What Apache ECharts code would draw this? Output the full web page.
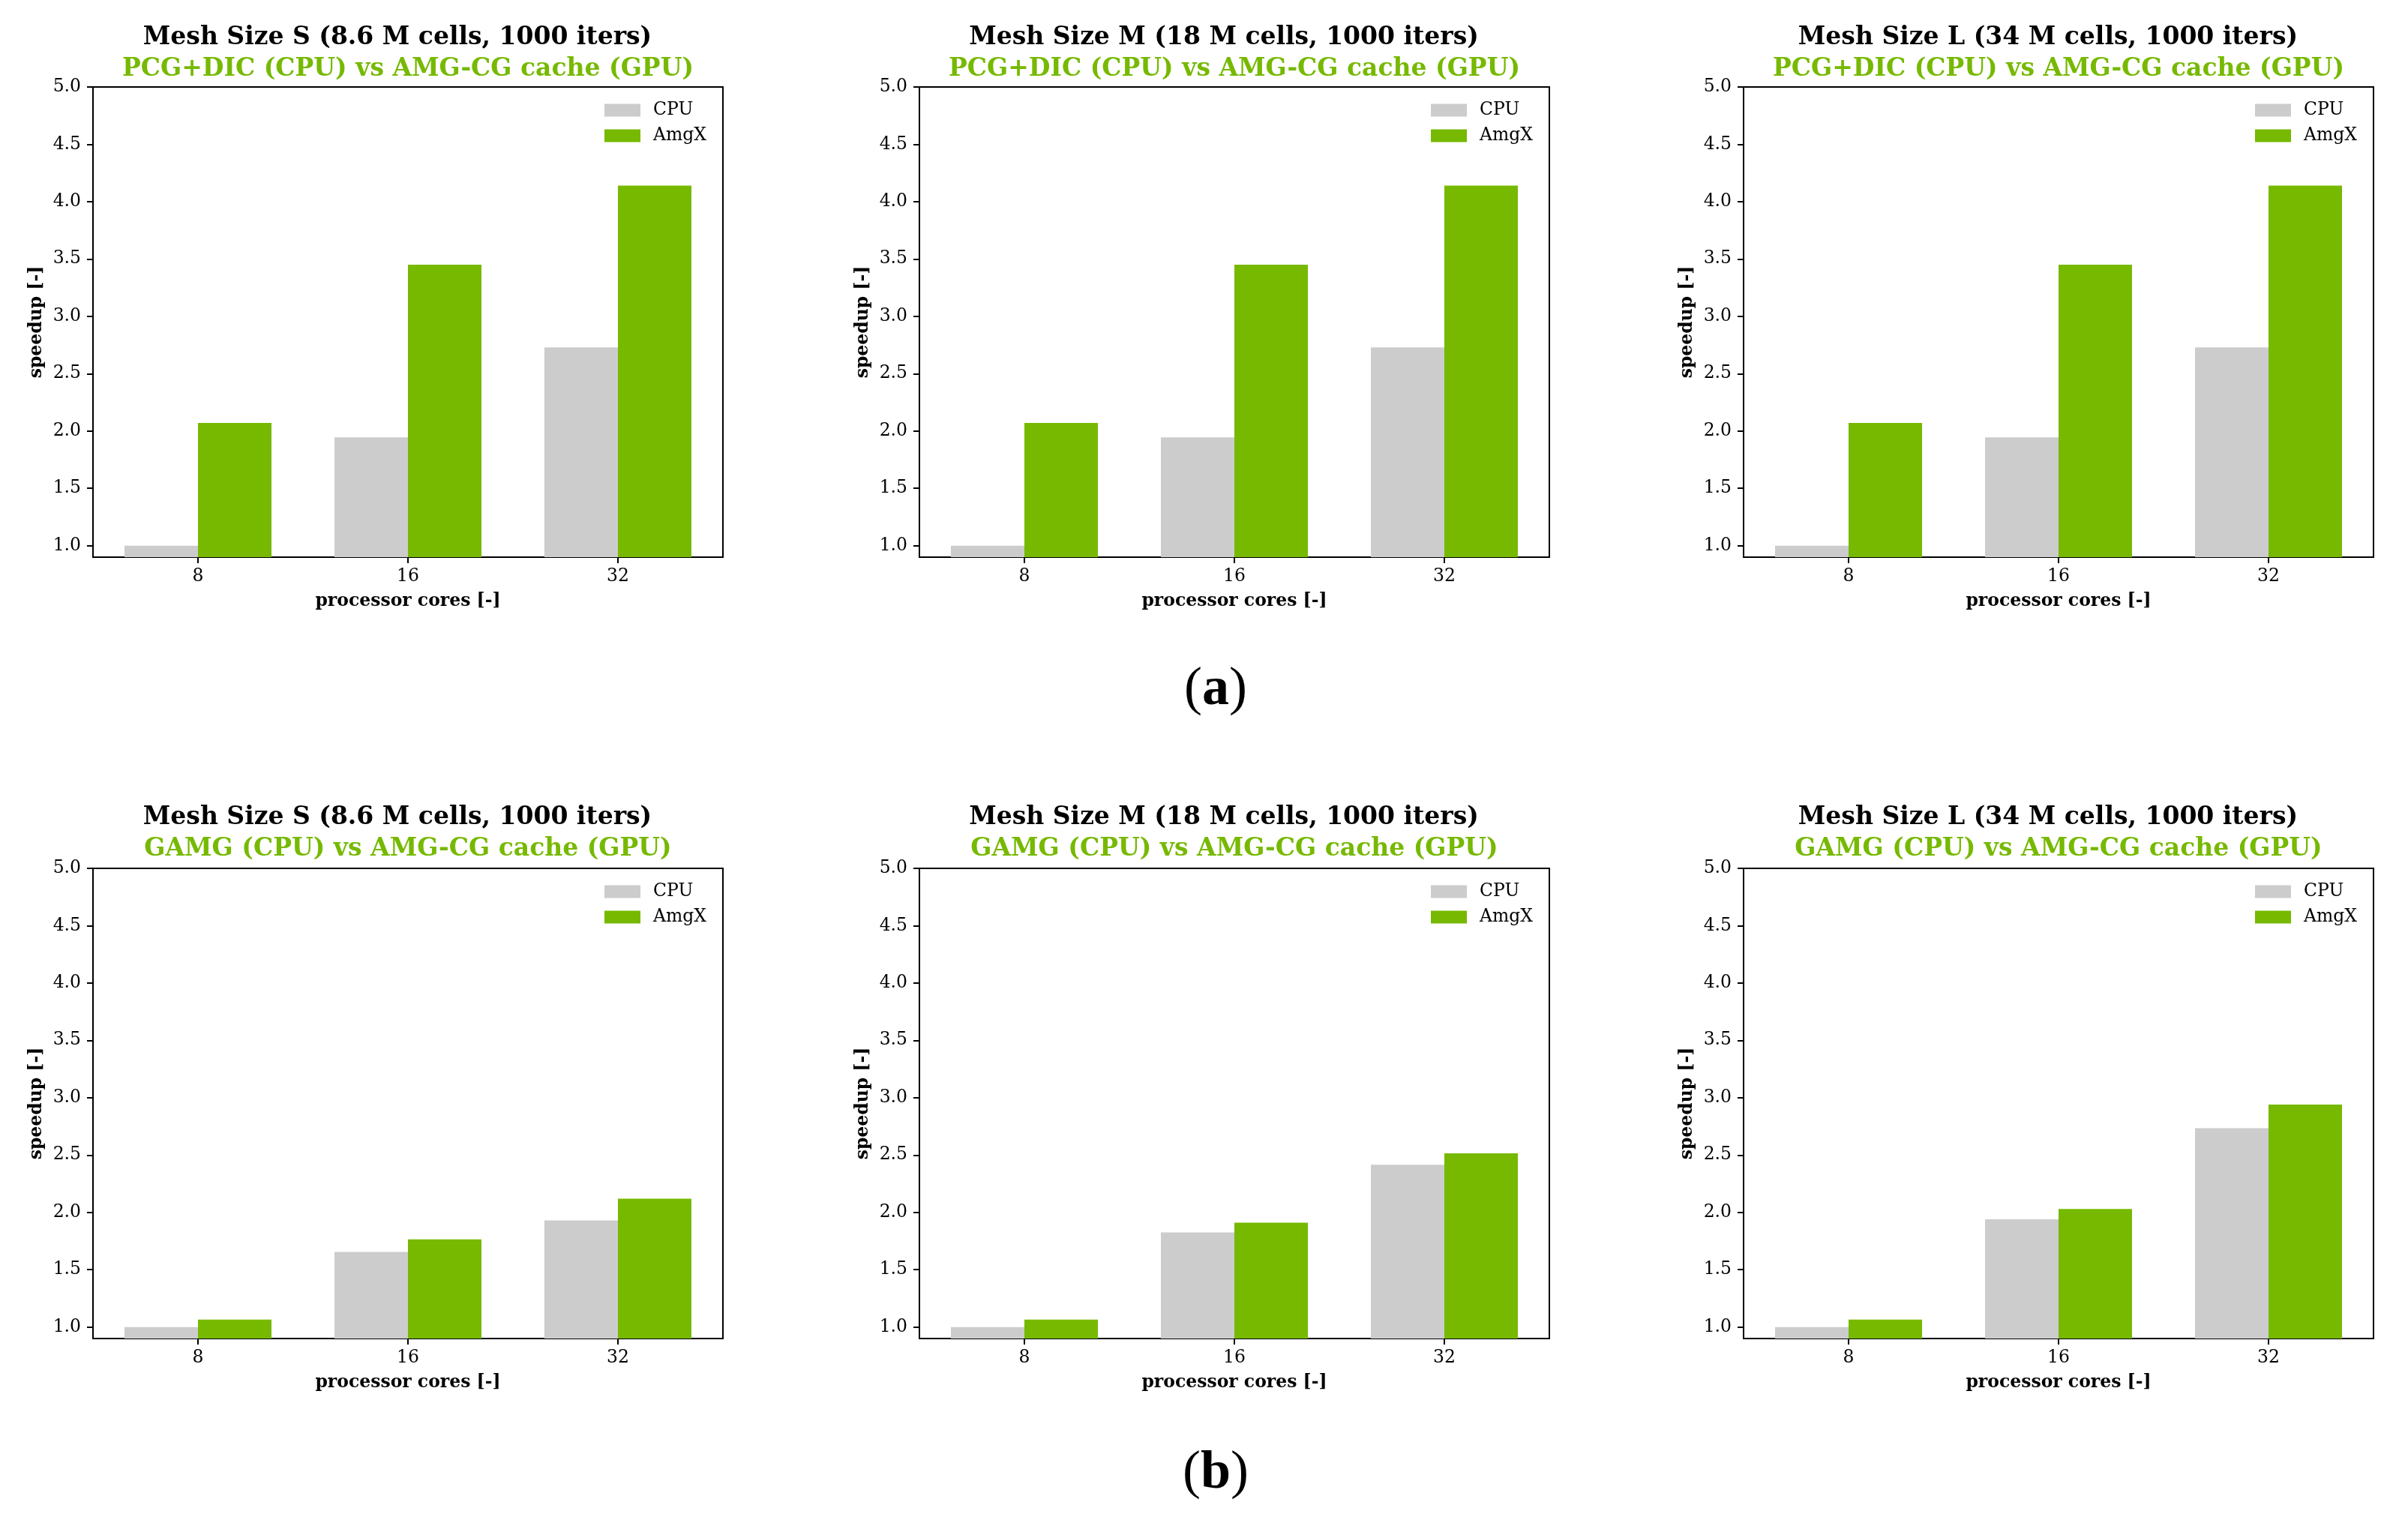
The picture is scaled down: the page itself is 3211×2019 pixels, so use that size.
<!DOCTYPE html>
<html>
<head>
<meta charset="utf-8">
<script src="https://cdn.jsdelivr.net/npm/echarts@6/dist/echarts.min.js"></script>
<style>
html,body{margin:0;padding:0;background:#fff;}
#chart{width:3211px;height:2019px;}
</style>
</head>
<body>
<div id="chart"></div>
<script>
// ---- data ----
const categories = ['8', '16', '32'];
const yTicks = [1.0, 1.5, 2.0, 2.5, 3.0, 3.5, 4.0, 4.5, 5.0];
const seriesNames = ['CPU', 'AmgX'];

const titlesLine1 = [
  'Mesh Size S (8.6 M cells, 1000 iters)',
  'Mesh Size M (18 M cells, 1000 iters)',
  'Mesh Size L (34 M cells, 1000 iters)'
];
const subtitleTop = 'PCG+DIC (CPU) vs AMG-CG cache (GPU)';
const subtitleBottom = 'GAMG (CPU) vs AMG-CG cache (GPU)';
const panelLabels = ['a', 'b'];

// (a) PCG+DIC vs AMG-CG cache
const pcgS_cpu  = [1.00, 1.945, 2.73];
const pcgS_amgx = [2.07, 3.45, 4.14];
const pcgM_cpu  = [1.00, 1.945, 2.73];
const pcgM_amgx = [2.07, 3.45, 4.14];
const pcgL_cpu  = [1.00, 1.945, 2.73];
const pcgL_amgx = [2.07, 3.45, 4.14];

// (b) GAMG vs AMG-CG cache
const gamgS_cpu  = [1.00, 1.655, 1.93];
const gamgS_amgx = [1.065, 1.765, 2.12];
const gamgM_cpu  = [1.00, 1.825, 2.415];
const gamgM_amgx = [1.065, 1.91, 2.515];
const gamgL_cpu  = [1.00, 1.94, 2.735];
const gamgL_amgx = [1.065, 2.03, 2.94];

const panelData = [
  [pcgS_cpu, pcgS_amgx], [pcgM_cpu, pcgM_amgx], [pcgL_cpu, pcgL_amgx],
  [gamgS_cpu, gamgS_amgx], [gamgM_cpu, gamgM_amgx], [gamgL_cpu, gamgL_amgx]
];

// ---- layout / style ----
const FONT = 'DejaVu Serif';
const CPU_COLOR = '#cccccc';
const GPU_COLOR = '#76b900';
const colLefts = [124, 1226, 2325];
const plotW = 840;
const rowTops = [116, 1158];
const plotH = 627;
const small = 23.5;

const grids = [], xAxes = [], yAxes = [], series = [], legends = [], graphics = [];

for (let r = 0; r < 2; r++) {
  for (let c = 0; c < 3; c++) {
    const i = r * 3 + c;
    const left = colLefts[c], top = rowTops[r];
    grids.push({
      left: left, top: top, width: plotW, height: plotH,
      show: true, borderColor: '#000', borderWidth: 2, backgroundColor: 'transparent',
      containLabel: false
    });
    xAxes.push({
      type: 'category', gridIndex: i, data: categories,
      axisLine: { show: true, lineStyle: { color: '#000', width: 2 } },
      axisTick: { show: true, alignWithLabel: true, length: 8, lineStyle: { color: '#000', width: 2 } },
      axisLabel: { color: '#000', fontFamily: FONT, fontSize: small, margin: 14 },
      name: 'processor cores [-]', nameLocation: 'middle', nameGap: 47,
      nameTextStyle: { color: '#000', fontFamily: FONT, fontSize: small, fontWeight: 'bold' },
      splitLine: { show: false }
    });
    yAxes.push({
      type: 'value', gridIndex: i, min: 0.9, max: 5.0,
      axisLine: { show: true, lineStyle: { color: '#000', width: 2 } },
      axisTick: { show: true, length: 8, customValues: yTicks, lineStyle: { color: '#000', width: 2 } },
      axisLabel: { color: '#000', fontFamily: FONT, fontSize: small, margin: 16,
        customValues: yTicks, formatter: v => Number(v).toFixed(1) },
      name: 'speedup [-]', nameLocation: 'middle', nameGap: 63,
      nameTextStyle: { color: '#000', fontFamily: FONT, fontSize: small, fontWeight: 'bold' },
      splitLine: { show: false }
    });
    series.push({
      type: 'bar', name: seriesNames[0], xAxisIndex: i, yAxisIndex: i,
      data: panelData[i][0], barWidth: '35%', barGap: '0%',
      itemStyle: { color: CPU_COLOR }, silent: true
    });
    series.push({
      type: 'bar', name: seriesNames[1], xAxisIndex: i, yAxisIndex: i,
      data: panelData[i][1], barWidth: '35%', barGap: '0%',
      itemStyle: { color: GPU_COLOR }, silent: true
    });
    legends.push({
      orient: 'vertical', left: left + plotW - 158, top: top + 19, padding: 0,
      itemWidth: 48, itemHeight: 17, itemGap: 10,
      icon: 'rect', selectedMode: false,
      data: seriesNames,
      textStyle: { color: '#000', fontFamily: FONT, fontSize: small, padding: [0, 0, 0, 12] }
    });
    const cx = left + plotW / 2;
    const ty = r === 0 ? 50 : 1090;
    graphics.push({
      type: 'text', x: cx - 14, y: ty,
      style: { text: titlesLine1[c], fill: '#000', font: 'bold 33px "' + FONT + '"',
        textAlign: 'center', textVerticalAlign: 'middle' }
    });
    graphics.push({
      type: 'text', x: cx, y: ty + 42,
      style: { text: r === 0 ? subtitleTop : subtitleBottom, fill: GPU_COLOR,
        font: 'bold 33px "' + FONT + '"', textAlign: 'center', textVerticalAlign: 'middle' }
    });
  }
}

const labelYs = [920, 1965];
for (let r = 0; r < 2; r++) {
  graphics.push({
    type: 'text', x: 1621, y: labelYs[r],
    style: {
      text: '{p|(}{b|' + panelLabels[r] + '}{p|)}',
      textAlign: 'center', textVerticalAlign: 'middle',
      rich: {
        p: { fontFamily: 'Liberation Serif', fontSize: 72, fontWeight: 'normal', fill: '#000' },
        b: { fontFamily: 'Liberation Serif', fontSize: 72, fontWeight: 'bold', fill: '#000' }
      }
    }
  });
}

const chart = echarts.init(document.getElementById('chart'), null, { renderer: 'canvas' });
chart.setOption({
  backgroundColor: '#fff',
  animation: false,
  grid: grids,
  xAxis: xAxes,
  yAxis: yAxes,
  legend: legends,
  series: series,
  graphic: graphics
});
</script>
</body>
</html>
